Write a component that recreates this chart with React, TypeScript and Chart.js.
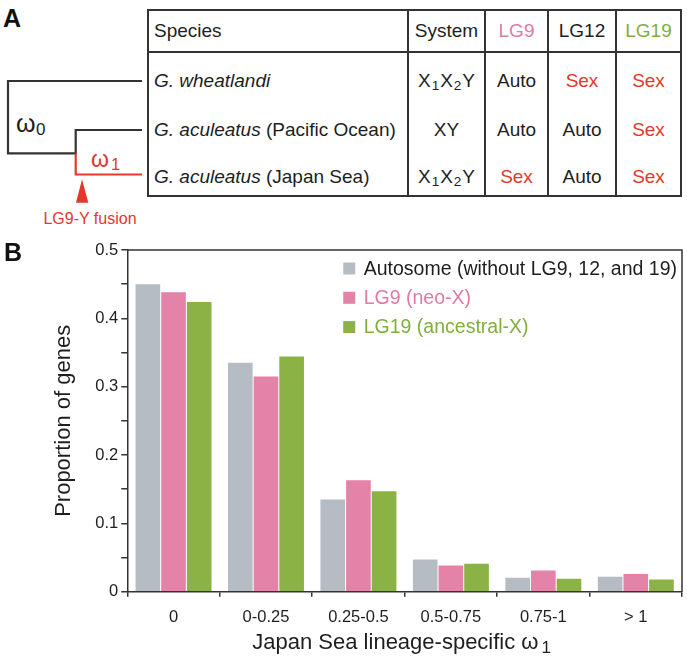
import React, { useEffect, useRef } from "react";
import { Chart, registerables } from "chart.js";

Chart.register(...registerables);

const FONT = '"Liberation Sans", Arial, Helvetica, sans-serif';

// ---------- Panel B data ----------
const categories = ["0", "0-0.25", "0.25-0.5", "0.5-0.75", "0.75-1", "> 1"];
const autosomeValues = [0.45, 0.335, 0.135, 0.047, 0.0205, 0.022];
const lg9Values = [0.438, 0.315, 0.163, 0.0385, 0.031, 0.026];
const lg19Values = [0.424, 0.344, 0.147, 0.041, 0.019, 0.018];
const seriesLabels = ["Autosome (without LG9, 12, and 19)", "LG9 (neo-X)", "LG19 (ancestral-X)"];
const seriesColors = ["#b6bcc4", "#e482a8", "#8ab244"];
const legendTextColors = ["#1e1e1e", "#e07aa6", "#80b03c"];
const yMin = 0;
const yMax = 0.5;
const yStep = 0.05;
const yTitle = "Proportion of genes";
const xTitle = "Japan Sea lineage-specific ω";
const xTitleSub = "1";

// ---------- Panel A data ----------
const tableHeaders = ["Species", "System", "LG9", "LG12", "LG19"];
const headerColors = ["#1e1e1e", "#1e1e1e", "#e07aa6", "#1e1e1e", "#7fae3c"];
const speciesItalic = ["G. wheatlandi", "G. aculeatus", "G. aculeatus"];
const speciesNote = ["", " (Pacific Ocean)", " (Japan Sea)"];
const systems = ["X1X2Y", "XY", "X1X2Y"];
const lg9Status = ["Auto", "Auto", "Sex"];
const lg12Status = ["Sex", "Auto", "Auto"];
const lg19Status = ["Sex", "Sex", "Sex"];
const treeLabels = ["ω", "0", "ω", "1", "LG9-Y fusion"];

const RED = "#e2382e";
const LINE = "#333333";

const colEdges = [148, 408, 485, 548, 616, 681];
const rowCenters = [80.5, 130, 177];

function statusColor(s: string) {
  return s === "Sex" ? RED : "#1e1e1e";
}

function SystemText({ text }: { text: string }) {
  return (
    <>
      {text.split("").map((ch, i) =>
        /[0-9]/.test(ch) ? (
          <span key={i} style={{ fontSize: "13.5px", position: "relative", top: "3px", margin: "0 1px" }}>
            {ch}
          </span>
        ) : (
          <span key={i}>{ch}</span>
        )
      )}
    </>
  );
}

function Cell({ col, cy, children, color, align }: any) {
  const left = colEdges[col];
  const w = colEdges[col + 1] - left;
  return (
    <div
      style={{
        position: "absolute",
        left,
        width: w,
        top: cy - 12,
        height: 24,
        lineHeight: "24px",
        fontSize: "19px",
        fontFamily: FONT,
        color: color || "#1e1e1e",
        textAlign: align || "center",
        paddingLeft: align === "left" ? 6 : 0,
        boxSizing: "border-box",
        whiteSpace: "nowrap",
      }}
    >
      {children}
    </div>
  );
}

function PanelA() {
  const top = 9;
  const bottom = 197;
  const headerBottom = 51.5;
  return (
    <div style={{ position: "absolute", left: 0, top: 0, width: 687, height: 230 }}>
      <div
        style={{
          position: "absolute",
          left: 3,
          top: 4,
          fontFamily: FONT,
          fontWeight: "bold",
          fontSize: "25px",
          lineHeight: "28px",
          color: "#111",
        }}
      >
        A
      </div>
      <svg width={150} height={230} style={{ position: "absolute", left: 0, top: 0 }}>
        <path d="M142,81 H8 V153.3 H75.7 V130 H142" fill="none" stroke={LINE} strokeWidth={2.2} />
        <path d="M75.7,153.3 V174.5 H142" fill="none" stroke={RED} strokeWidth={2.2} />
        <path d="M82,179.3 L76,202.7 L88.3,202.7 Z" fill={RED} />
        <text x={16} y={132} fontFamily={FONT} fontSize={25} fill="#1e1e1e">
          {treeLabels[0]}
        </text>
        <text x={36} y={135} fontFamily={FONT} fontSize={17} fill="#1e1e1e">
          {treeLabels[1]}
        </text>
        <text x={91} y={167} fontFamily={FONT} fontSize={23} fill={RED}>
          {treeLabels[2]}
        </text>
        <text x={111} y={170} fontFamily={FONT} fontSize={16.5} fill={RED}>
          {treeLabels[3]}
        </text>
        <text x={90} y={223.5} textAnchor="middle" fontFamily={FONT} fontSize={16} fill={RED}>
          {treeLabels[4]}
        </text>
      </svg>
      {/* table frame */}
      <div
        style={{
          position: "absolute",
          left: colEdges[0] - 1,
          top,
          width: colEdges[5] - colEdges[0] + 2,
          height: bottom - top,
          border: `2px solid ${LINE}`,
          boxSizing: "border-box",
        }}
      />
      <div
        style={{
          position: "absolute",
          left: colEdges[0],
          top: headerBottom - 1,
          width: colEdges[5] - colEdges[0],
          height: 2,
          background: LINE,
        }}
      />
      {colEdges.slice(1, 5).map((x, i) => (
        <div
          key={i}
          style={{ position: "absolute", left: x - 1, top, width: 2, height: bottom - top, background: LINE }}
        />
      ))}
      {tableHeaders.map((h, i) => (
        <Cell key={h} col={i} cy={30.5} color={headerColors[i]} align={i === 0 ? "left" : "center"}>
          {h}
        </Cell>
      ))}
      {speciesItalic.map((sp, r) => (
        <React.Fragment key={r}>
          <Cell col={0} cy={rowCenters[r]} align="left">
            <i>{sp}</i>
            {speciesNote[r]}
          </Cell>
          <Cell col={1} cy={rowCenters[r]}>
            <SystemText text={systems[r]} />
          </Cell>
          <Cell col={2} cy={rowCenters[r]} color={statusColor(lg9Status[r])}>
            {lg9Status[r]}
          </Cell>
          <Cell col={3} cy={rowCenters[r]} color={statusColor(lg12Status[r])}>
            {lg12Status[r]}
          </Cell>
          <Cell col={4} cy={rowCenters[r]} color={statusColor(lg19Status[r])}>
            {lg19Status[r]}
          </Cell>
        </React.Fragment>
      ))}
    </div>
  );
}

const framePlugin = {
  id: "frame",
  afterDraw(chart: any) {
    const { ctx, chartArea } = chart;
    ctx.save();
    ctx.strokeStyle = LINE;
    ctx.lineWidth = 1.5;
    ctx.beginPath();
    ctx.moveTo(chartArea.left, chartArea.top);
    ctx.lineTo(chartArea.right, chartArea.top);
    ctx.lineTo(chartArea.right, chartArea.bottom);
    ctx.stroke();
    ctx.restore();
  },
};

const legendPlugin = {
  id: "insideLegend",
  afterDraw(chart: any) {
    const { ctx, chartArea } = chart;
    const ds = chart.data.datasets;
    ctx.save();
    ctx.font = `19.5px ${FONT}`;
    const maxW = Math.max(...ds.map((d: any) => ctx.measureText(d.label).width));
    const box = 12;
    const gap = 8.5;
    const rowH = 29.3;
    const x0 = chartArea.right - 5 - maxW - gap - box;
    ds.forEach((d: any, i: number) => {
      const cy = chartArea.top + 18.5 + i * rowH;
      ctx.fillStyle = d.backgroundColor;
      ctx.fillRect(x0, cy - box / 2, box, box);
      ctx.fillStyle = legendTextColors[i];
      ctx.textAlign = "left";
      ctx.textBaseline = "middle";
      ctx.fillText(d.label, x0 + box + gap, cy + 1);
    });
    ctx.restore();
  },
};

const xTitlePlugin = {
  id: "xTitleSub",
  afterDraw(chart: any) {
    const { ctx, chartArea } = chart;
    ctx.save();
    const mainFont = `22px ${FONT}`;
    const subFont = `17px ${FONT}`;
    ctx.font = mainFont;
    const wMain = ctx.measureText(xTitle).width;
    ctx.font = subFont;
    const wSub = ctx.measureText(xTitleSub).width;
    const gap = 3;
    const total = wMain + gap + wSub;
    const cx = (chartArea.left + chartArea.right) / 2 - 3;
    const x = cx - total / 2;
    const baseline = chartArea.bottom + 57;
    ctx.fillStyle = "#1e1e1e";
    ctx.textAlign = "left";
    ctx.textBaseline = "alphabetic";
    ctx.font = mainFont;
    ctx.fillText(xTitle, x, baseline);
    ctx.font = subFont;
    ctx.fillText(xTitleSub, x + wMain + gap, baseline + 4);
    ctx.restore();
  },
};

function PanelB() {
  const ref = useRef<HTMLCanvasElement | null>(null);
  useEffect(() => {
    if (!ref.current) return;
    const chart = new Chart(ref.current, {
      type: "bar",
      data: {
        labels: categories,
        datasets: [
          { label: seriesLabels[0], data: autosomeValues, backgroundColor: seriesColors[0] },
          { label: seriesLabels[1], data: lg9Values, backgroundColor: seriesColors[1] },
          { label: seriesLabels[2], data: lg19Values, backgroundColor: seriesColors[2] },
        ],
      },
      options: {
        animation: false,
        responsive: false,
        maintainAspectRatio: false,
        layout: { padding: { top: 20, right: 5, left: 0, bottom: 0 } },
        datasets: { bar: { categoryPercentage: 0.833, barPercentage: 0.96 } },
        plugins: { legend: { display: false }, tooltip: { enabled: false } },
        scales: {
          x: {
            type: "category",
            offset: true,
            grid: {
              display: true,
              drawOnChartArea: false,
              drawTicks: true,
              tickLength: 5,
              offset: true,
              color: LINE,
              lineWidth: 1.5,
            },
            border: { display: true, color: LINE, width: 1.5 },
            ticks: {
              color: "#1e1e1e",
              font: { family: FONT, size: 16.5 },
              padding: 11,
              maxRotation: 0,
              autoSkip: false,
            },
            afterFit: (s: any) => {
              s.height = 72.3;
            },
          },
          y: {
            min: yMin,
            max: yMax,
            ticks: {
              stepSize: yStep,
              color: "#1e1e1e",
              font: { family: FONT, size: 16.5 },
              padding: 3,
              autoSkip: false,
              callback: (v: any) => {
                const n = Number(v);
                return Math.abs(n * 10 - Math.round(n * 10)) < 1e-6 ? String(Math.round(n * 10) / 10) : "";
              },
            },
            grid: {
              drawOnChartArea: false,
              drawTicks: true,
              tickLength: 6,
              color: LINE,
              lineWidth: 1.5,
            },
            border: { display: true, color: LINE, width: 1.5 },
            title: {
              display: true,
              text: yTitle,
              color: "#1e1e1e",
              font: { family: FONT, size: 22 },
              padding: { top: 50.8, bottom: 0 },
            },
            afterFit: (s: any) => {
              s.width = 127.3;
            },
          },
        },
      } as any,
      plugins: [framePlugin, legendPlugin, xTitlePlugin],
    });
    return () => chart.destroy();
  }, []);
  return (
    <div style={{ position: "absolute", left: 0, top: 230, width: 687, height: 434 }}>
      <canvas ref={ref} width={687} height={434} style={{ width: 687, height: 434, display: "block" }} />
      <div
        style={{
          position: "absolute",
          left: 4,
          top: 8,
          fontFamily: FONT,
          fontWeight: "bold",
          fontSize: "25px",
          lineHeight: "28px",
          color: "#111",
        }}
      >
        B
      </div>
    </div>
  );
}

export default function App() {
  return (
    <div
      style={{
        position: "absolute",
        left: 0,
        top: 0,
        width: 687,
        height: 664,
        background: "#ffffff",
        overflow: "hidden",
      }}
    >
      <PanelA />
      <PanelB />
    </div>
  );
}
